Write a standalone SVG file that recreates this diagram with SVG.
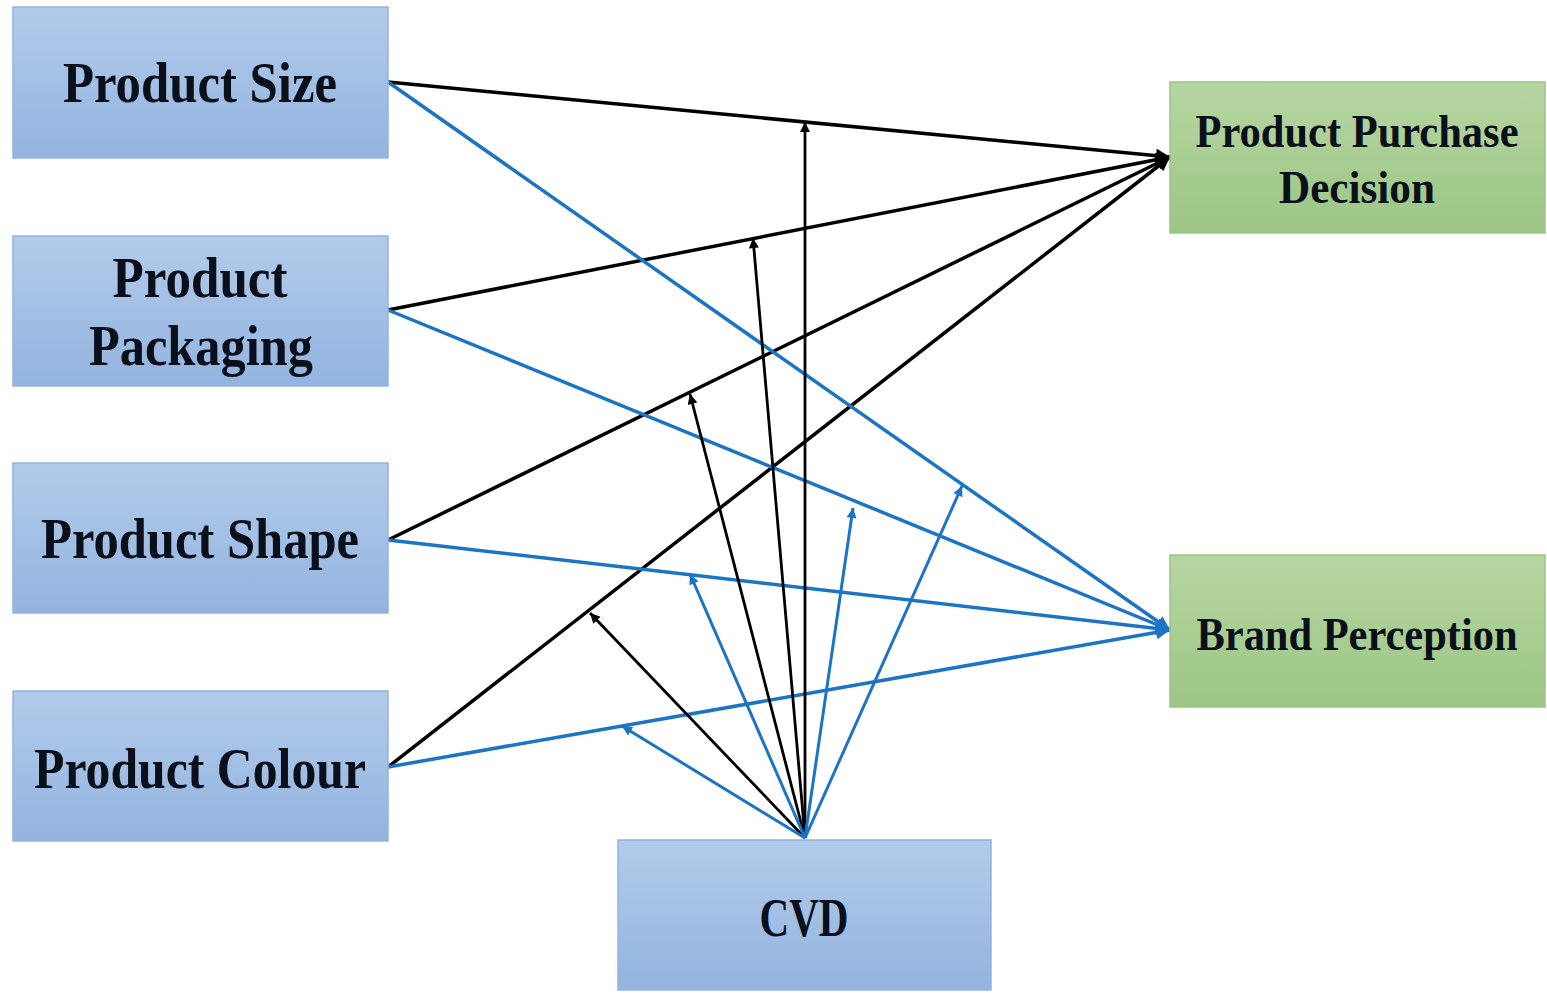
<svg xmlns="http://www.w3.org/2000/svg" width="1547" height="994" viewBox="0 0 1547 994">
<style>
.lbl{font-family:"Liberation Serif","DejaVu Serif",serif;font-weight:bold;fill:#0a0f1a;text-anchor:middle}
.bk{stroke:#000;stroke-width:3.5;fill:none}
.bl{stroke:#1c74c4;stroke-width:3.5;fill:none}
.bkm{stroke:#000;stroke-width:2.8;fill:none;marker-end:url(#ak)}
.blm{stroke:#1c74c4;stroke-width:3;fill:none;marker-end:url(#ab)}
.bluebox{fill:url(#gb);stroke:#94b3dc;stroke-width:1.5}
.greenbox{fill:url(#gg);stroke:#9cc487;stroke-width:1.5}
</style>
<defs>
<linearGradient id="gb" x1="0" y1="0" x2="0" y2="1"><stop offset="0" stop-color="#b2cbea"/><stop offset="1" stop-color="#93b4e0"/></linearGradient>
<linearGradient id="gg" x1="0" y1="0" x2="0" y2="1"><stop offset="0" stop-color="#b6d6a1"/><stop offset="1" stop-color="#9cc686"/></linearGradient>
<marker id="ak" viewBox="0 0 10 10" refX="10" refY="5" markerWidth="12" markerHeight="10" markerUnits="userSpaceOnUse" orient="auto"><path d="M0,0 L10,5 L0,10 z" fill="#000"/></marker>
<marker id="ab" viewBox="0 0 10 10" refX="10" refY="5" markerWidth="12" markerHeight="10" markerUnits="userSpaceOnUse" orient="auto"><path d="M0,0 L10,5 L0,10 z" fill="#1c74c4"/></marker>
<marker id="akL" viewBox="0 0 10 10" refX="10" refY="5" markerWidth="16" markerHeight="14" markerUnits="userSpaceOnUse" orient="auto"><path d="M0,0 L10,5 L0,10 z" fill="#000"/></marker>
<marker id="abL" viewBox="0 0 10 10" refX="10" refY="5" markerWidth="16" markerHeight="14" markerUnits="userSpaceOnUse" orient="auto"><path d="M0,0 L10,5 L0,10 z" fill="#1c74c4"/></marker>
</defs>
<rect width="1547" height="994" fill="#fff"/>
<g id="connectors">
<line class="bk" x1="388" y1="82" x2="1170" y2="157" marker-end="url(#akL)"/>
<line class="bk" x1="388" y1="310" x2="1170" y2="157" marker-end="url(#akL)"/>
<line class="bk" x1="388" y1="540" x2="1170" y2="157" marker-end="url(#akL)"/>
<line class="bk" x1="388" y1="767" x2="1170" y2="157" marker-end="url(#akL)"/>
<line class="bl" x1="388" y1="82" x2="1170" y2="630" marker-end="url(#abL)"/>
<line class="bl" x1="388" y1="310" x2="1170" y2="630" marker-end="url(#abL)"/>
<line class="bl" x1="388" y1="540" x2="1170" y2="630" marker-end="url(#abL)"/>
<line class="bl" x1="388" y1="767" x2="1170" y2="630" marker-end="url(#abL)"/>
<line class="bkm" x1="805" y1="838" x2="805" y2="122"/>
<line class="bkm" x1="805" y1="838" x2="753" y2="238"/>
<line class="bkm" x1="805" y1="838" x2="690" y2="394"/>
<line class="bkm" x1="805" y1="838" x2="590" y2="613"/>
<line class="blm" x1="805" y1="838" x2="622" y2="726"/>
<line class="blm" x1="805" y1="838" x2="690" y2="574"/>
<line class="blm" x1="805" y1="838" x2="853" y2="508"/>
<line class="blm" x1="805" y1="838" x2="962" y2="486"/>
</g>
<g id="product-size"><rect class="bluebox" x="13" y="7" width="375" height="151"/><text class="lbl" x="200" y="102" font-size="56" textLength="274" lengthAdjust="spacingAndGlyphs">Product Size</text></g>
<g id="product-packaging"><rect class="bluebox" x="13" y="236" width="375" height="150"/><text class="lbl" x="200" y="297" font-size="56" textLength="175" lengthAdjust="spacingAndGlyphs">Product</text><text class="lbl" x="201" y="365" font-size="56" textLength="224" lengthAdjust="spacingAndGlyphs">Packaging</text></g>
<g id="product-shape"><rect class="bluebox" x="13" y="463" width="375" height="150"/><text class="lbl" x="200" y="558" font-size="56" textLength="318" lengthAdjust="spacingAndGlyphs">Product Shape</text></g>
<g id="product-colour"><rect class="bluebox" x="13" y="691" width="375" height="150"/><text class="lbl" x="200" y="788" font-size="56" textLength="332" lengthAdjust="spacingAndGlyphs">Product Colour</text></g>
<g id="purchase-decision"><rect class="greenbox" x="1170" y="82" width="375" height="151"/><text class="lbl" x="1357" y="147" font-size="46" textLength="323" lengthAdjust="spacingAndGlyphs">Product Purchase</text><text class="lbl" x="1357" y="203" font-size="46" textLength="156" lengthAdjust="spacingAndGlyphs">Decision</text></g>
<g id="brand-perception"><rect class="greenbox" x="1170" y="555" width="375" height="152"/><text class="lbl" x="1357" y="650" font-size="46" textLength="321" lengthAdjust="spacingAndGlyphs">Brand Perception</text></g>
<g id="cvd"><rect class="bluebox" x="618" y="840" width="373" height="150"/><text class="lbl" x="804" y="936" font-size="54" textLength="89" lengthAdjust="spacingAndGlyphs">CVD</text></g>
</svg>
